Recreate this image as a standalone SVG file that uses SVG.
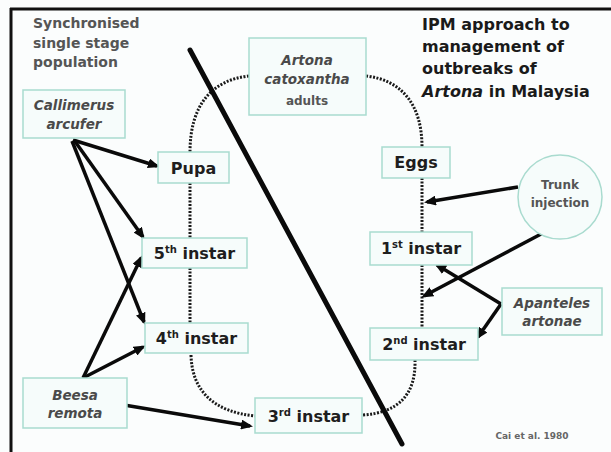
<svg xmlns="http://www.w3.org/2000/svg" width="611" height="452" viewBox="0 0 611 452">
<defs>
<style>
.bx{fill:#f6fcfb;stroke:#a9dbcf;stroke-width:1.5}
.lbl{font-family:"DejaVu Sans",Verdana,sans-serif;font-weight:bold;font-size:16px;fill:#1e1e1e;text-anchor:middle}
.sp{font-size:10px}
.it{font-family:"DejaVu Sans",Verdana,sans-serif;font-weight:bold;font-style:italic;font-size:13.5px;fill:#4a4a4a;text-anchor:middle}
.sm{font-family:"DejaVu Sans",Verdana,sans-serif;font-weight:bold;font-size:12px;fill:#555;text-anchor:middle}
.note{font-family:"DejaVu Sans",Verdana,sans-serif;font-weight:bold;font-size:14px;fill:#555}
.title{font-family:"DejaVu Sans",Verdana,sans-serif;font-weight:bold;font-size:16px;fill:#1a1a1a}
.dot{fill:none;stroke:#1a1a1a;stroke-width:3;stroke-dasharray:2 1.5}
.ar{fill:none;stroke:#0a0a0a;stroke-width:3.5;marker-end:url(#ah)}
</style>
<marker id="ah" markerUnits="userSpaceOnUse" markerWidth="12" markerHeight="10" refX="9" refY="5" orient="auto">
<path d="M0,0 L12,5 L0,10 Z" fill="#0a0a0a"/>
</marker>
</defs>
<rect x="0" y="0" width="611" height="452" fill="#fbfdfd"/>
<line x1="10" y1="9" x2="611" y2="9" stroke="#111" stroke-width="3"/>
<line x1="11" y1="8" x2="11" y2="452" stroke="#111" stroke-width="3"/>

<g id="note">
<text class="note" x="33" y="28">Synchronised</text>
<text class="note" x="33" y="48">single stage</text>
<text class="note" x="33" y="67">population</text>
</g>
<g id="title">
<text class="title" x="422" y="30">IPM approach to</text>
<text class="title" x="422" y="52">management of</text>
<text class="title" x="422" y="74">outbreaks of</text>
<text class="title" x="422" y="97"><tspan font-style="italic">Artona</tspan> in Malaysia</text>
</g>

<g id="connectors">
<path class="dot" d="M249,76 C212,80 190,105 190,152"/>
<path class="dot" d="M366,76 C402,80 422,105 422,147"/>
<path class="dot" d="M190,183 L190,238"/>
<path class="dot" d="M190,268 L190,323"/>
<path class="dot" d="M422,178 L422,232"/>
<path class="dot" d="M422,265 L422,328"/>
<path class="dot" d="M191,355 C192,392 215,412 255,416"/>
<path class="dot" d="M415,360 C416,395 398,413 362,415"/>
<line x1="190" y1="50" x2="402" y2="444" stroke="#0a0a0a" stroke-width="5" stroke-linecap="round"/>
<path class="ar" d="M73,140 L157,166"/>
<path class="ar" d="M74,140 L143,237"/>
<path class="ar" d="M72,141 L144,322"/>
<path class="ar" d="M83,378 L141,258"/>
<path class="ar" d="M83,378 L143,347"/>
<path class="ar" d="M124,405 L250,426"/>
<path class="ar" d="M518,187 L427,202"/>
<path class="ar" d="M543,233 L424,296"/>
<path class="ar" d="M501,304 L437,265"/>
<path class="ar" d="M501,304 L478,337"/>
</g>

<g id="callimerus">
<rect class="bx" x="23" y="90" width="102" height="48"/>
<text class="it" x="74" y="110">Callimerus</text>
<text class="it" x="74" y="129">arcufer</text>
</g>
<g id="beesa">
<rect class="bx" x="23" y="378" width="104" height="50"/>
<text class="it" x="75" y="400">Beesa</text>
<text class="it" x="75" y="418">remota</text>
</g>
<g id="adults">
<rect class="bx" x="249" y="38" width="117" height="77"/>
<text class="it" x="307" y="65" font-size="14px">Artona</text>
<text class="it" x="307" y="84" font-size="14px">catoxantha</text>
<text class="sm" x="307" y="105" font-size="10px" font-weight="normal">adults</text>
</g>
<g id="pupa">
<rect class="bx" x="158" y="152" width="71" height="31"/>
<text class="lbl" x="193.5" y="174">Pupa</text>
</g>
<g id="instar5">
<rect class="bx" x="142" y="238" width="105" height="30"/>
<text class="lbl" x="194.5" y="259">5<tspan class="sp" dy="-6">th</tspan><tspan dy="6"> instar</tspan></text>
</g>
<g id="instar4">
<rect class="bx" x="145" y="323" width="103" height="30"/>
<text class="lbl" x="196.5" y="344">4<tspan class="sp" dy="-6">th</tspan><tspan dy="6"> instar</tspan></text>
</g>
<g id="instar3">
<rect class="bx" x="255" y="398" width="107" height="35"/>
<text class="lbl" x="308.5" y="422">3<tspan class="sp" dy="-6">rd</tspan><tspan dy="6"> instar</tspan></text>
</g>
<g id="eggs">
<rect class="bx" x="382" y="147" width="68" height="31"/>
<text class="lbl" x="416" y="168">Eggs</text>
</g>
<g id="instar1">
<rect class="bx" x="370" y="232" width="102" height="33"/>
<text class="lbl" x="421" y="254">1<tspan class="sp" dy="-6">st</tspan><tspan dy="6"> instar</tspan></text>
</g>
<g id="instar2">
<rect class="bx" x="370" y="328" width="108" height="32"/>
<text class="lbl" x="424" y="350">2<tspan class="sp" dy="-6">nd</tspan><tspan dy="6"> instar</tspan></text>
</g>
<g id="trunk">
<circle cx="560" cy="197" r="42" fill="#f6fcfb" stroke="#a9dbcf" stroke-width="1.5"/>
<text class="sm" x="560" y="189">Trunk</text>
<text class="sm" x="560" y="207">injection</text>
</g>
<g id="apanteles">
<rect class="bx" x="502" y="288" width="100" height="47"/>
<text class="it" x="552" y="308">Apanteles</text>
<text class="it" x="552" y="326">artonae</text>
</g>
<g id="citation">
<text x="532" y="439" font-family="DejaVu Sans,Verdana,sans-serif" font-size="9px" font-weight="bold" fill="#666" text-anchor="middle">Cai et al. 1980</text>
</g>
</svg>
